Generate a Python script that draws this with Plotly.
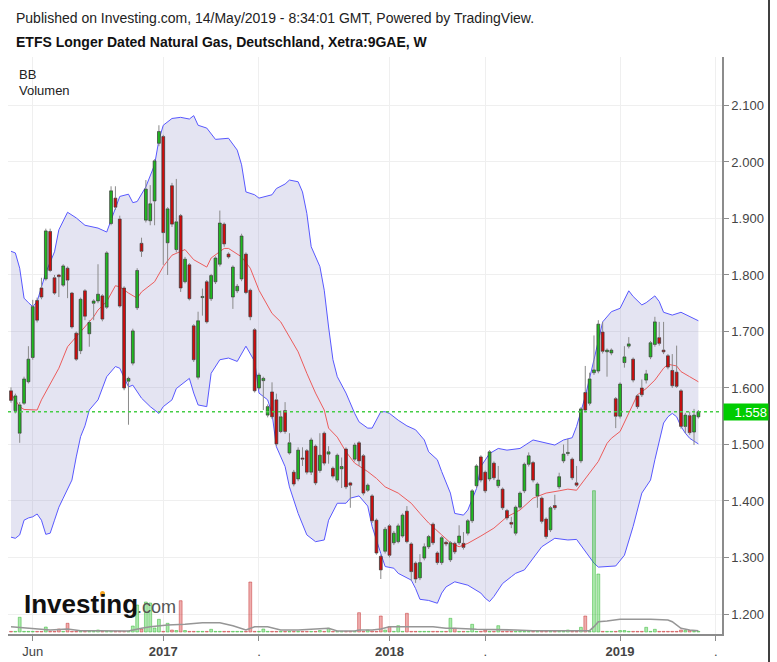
import pandas as pd
import plotly.graph_objects as go

# ---------------- data (weekly bars, Xetra:9GAE) ----------------
dates = pd.date_range("2016-05-02", periods=159, freq="7D")

opens = [
    1.595, 1.560, 1.520, 1.573, 1.611, 1.654, 1.755, 1.777, 1.793, 1.877,
    1.795, 1.800, 1.782, 1.812, 1.768, 1.697, 1.666, 1.772, 1.696, 1.750,
    1.754, 1.763, 1.743, 1.891, 1.936, 1.899, 1.777, 1.612, 1.644, 1.742,
    1.856, 1.897, 1.896, 1.931, 2.033, 2.045, 1.857, 1.958, 1.845, 1.905,
    1.788, 1.818, 1.710, 1.619, 1.760, 1.788, 1.758, 1.788, 1.819, 1.890,
    1.837, 1.761, 1.772, 1.793, 1.837, 1.773, 1.703, 1.600, 1.613, 1.552,
    1.593, 1.579, 1.523, 1.560, 1.485, 1.451, 1.439, 1.476, 1.489, 1.451,
    1.497, 1.454, 1.520, 1.483, 1.458, 1.437, 1.457, 1.492, 1.432, 1.474,
    1.503, 1.480, 1.419, 1.409, 1.366, 1.302, 1.311, 1.356, 1.326, 1.328,
    1.338, 1.382, 1.324, 1.290, 1.264, 1.299, 1.319, 1.359, 1.308, 1.291,
    1.327, 1.296, 1.325, 1.326, 1.325, 1.343, 1.365, 1.427, 1.478, 1.451,
    1.439, 1.467, 1.427, 1.421, 1.383, 1.362, 1.343, 1.389, 1.418, 1.465,
    1.468, 1.409, 1.405, 1.368, 1.349, 1.392, 1.425, 1.471, 1.484, 1.474,
    1.432, 1.471, 1.592, 1.573, 1.627, 1.630, 1.699, 1.664, 1.662, 1.581,
    1.550, 1.645, 1.674, 1.651, 1.586, 1.600, 1.614, 1.655, 1.677, 1.689,
    1.667, 1.657, 1.631, 1.628, 1.595, 1.532, 1.551, 1.522, 1.549,
]
highs = [
    1.601, 1.590, 1.575, 1.620, 1.674, 1.756, 1.760, 1.795, 1.882, 1.882,
    1.800, 1.802, 1.819, 1.815, 1.770, 1.700, 1.760, 1.775, 1.720, 1.757,
    1.819, 1.766, 1.842, 1.957, 1.957, 1.905, 1.780, 1.620, 1.705, 1.812,
    1.866, 1.968, 1.959, 2.005, 2.065, 2.048, 1.920, 1.963, 1.970, 1.908,
    1.832, 1.821, 1.713, 1.735, 1.776, 1.791, 1.802, 1.833, 1.914, 1.893,
    1.840, 1.817, 1.784, 1.873, 1.840, 1.776, 1.706, 1.627, 1.620, 1.571,
    1.610, 1.590, 1.560, 1.575, 1.520, 1.455, 1.495, 1.495, 1.492, 1.512,
    1.500, 1.520, 1.523, 1.497, 1.461, 1.484, 1.477, 1.495, 1.434, 1.503,
    1.506, 1.483, 1.431, 1.412, 1.369, 1.305, 1.354, 1.359, 1.347, 1.360,
    1.378, 1.391, 1.327, 1.293, 1.306, 1.325, 1.340, 1.362, 1.311, 1.338,
    1.330, 1.329, 1.328, 1.357, 1.345, 1.368, 1.421, 1.465, 1.481, 1.454,
    1.490, 1.470, 1.462, 1.424, 1.386, 1.372, 1.392, 1.417, 1.468, 1.486,
    1.471, 1.433, 1.408, 1.371, 1.391, 1.411, 1.450, 1.500, 1.510, 1.477,
    1.462, 1.566, 1.639, 1.627, 1.693, 1.720, 1.717, 1.670, 1.670, 1.584,
    1.610, 1.674, 1.690, 1.654, 1.589, 1.615, 1.632, 1.683, 1.726, 1.717,
    1.717, 1.660, 1.660, 1.675, 1.598, 1.556, 1.558, 1.563, 1.561,
]
lows = [
    1.574, 1.555, 1.503, 1.570, 1.608, 1.650, 1.716, 1.757, 1.790, 1.805,
    1.765, 1.761, 1.779, 1.759, 1.705, 1.648, 1.660, 1.720, 1.673, 1.720,
    1.750, 1.718, 1.740, 1.888, 1.915, 1.742, 1.596, 1.535, 1.640, 1.738,
    1.832, 1.893, 1.888, 1.888, 2.028, 1.818, 1.800, 1.885, 1.840, 1.770,
    1.785, 1.755, 1.646, 1.615, 1.728, 1.714, 1.754, 1.784, 1.815, 1.850,
    1.829, 1.740, 1.768, 1.789, 1.766, 1.720, 1.592, 1.597, 1.561, 1.548,
    1.545, 1.497, 1.520, 1.519, 1.482, 1.426, 1.435, 1.462, 1.447, 1.446,
    1.428, 1.450, 1.463, 1.466, 1.440, 1.433, 1.423, 1.421, 1.388, 1.470,
    1.462, 1.410, 1.416, 1.361, 1.305, 1.262, 1.307, 1.300, 1.322, 1.325,
    1.335, 1.325, 1.259, 1.255, 1.260, 1.295, 1.315, 1.322, 1.287, 1.287,
    1.320, 1.292, 1.306, 1.322, 1.314, 1.339, 1.361, 1.423, 1.433, 1.414,
    1.435, 1.437, 1.423, 1.384, 1.366, 1.352, 1.339, 1.385, 1.414, 1.461,
    1.433, 1.388, 1.360, 1.333, 1.345, 1.384, 1.421, 1.467, 1.480, 1.437,
    1.425, 1.467, 1.557, 1.569, 1.623, 1.626, 1.661, 1.620, 1.658, 1.529,
    1.546, 1.636, 1.670, 1.610, 1.563, 1.584, 1.608, 1.651, 1.673, 1.675,
    1.660, 1.633, 1.600, 1.600, 1.528, 1.520, 1.517, 1.499, 1.546,
]
closes = [
    1.578, 1.586, 1.570, 1.616, 1.651, 1.744, 1.720, 1.761, 1.878, 1.808,
    1.768, 1.797, 1.816, 1.791, 1.708, 1.651, 1.757, 1.727, 1.716, 1.754,
    1.766, 1.722, 1.839, 1.949, 1.920, 1.745, 1.600, 1.617, 1.701, 1.808,
    1.842, 1.952, 1.926, 2.002, 2.054, 1.875, 1.917, 1.890, 1.894, 1.777,
    1.828, 1.758, 1.650, 1.719, 1.762, 1.717, 1.799, 1.830, 1.892, 1.855,
    1.832, 1.814, 1.780, 1.869, 1.769, 1.726, 1.595, 1.623, 1.617, 1.567,
    1.549, 1.501, 1.549, 1.523, 1.503, 1.430, 1.490, 1.474, 1.451, 1.508,
    1.432, 1.481, 1.467, 1.487, 1.444, 1.481, 1.461, 1.425, 1.428, 1.499,
    1.471, 1.414, 1.428, 1.365, 1.308, 1.278, 1.350, 1.304, 1.343, 1.356,
    1.375, 1.328, 1.275, 1.262, 1.291, 1.319, 1.337, 1.326, 1.291, 1.335,
    1.324, 1.326, 1.310, 1.338, 1.318, 1.365, 1.418, 1.462, 1.437, 1.418,
    1.487, 1.441, 1.437, 1.388, 1.370, 1.359, 1.389, 1.414, 1.465, 1.480,
    1.437, 1.430, 1.364, 1.337, 1.388, 1.388, 1.443, 1.483, 1.486, 1.441,
    1.428, 1.563, 1.561, 1.616, 1.632, 1.713, 1.665, 1.667, 1.667, 1.550,
    1.607, 1.655, 1.678, 1.614, 1.567, 1.588, 1.625, 1.680, 1.717, 1.679,
    1.664, 1.637, 1.604, 1.603, 1.532, 1.552, 1.521, 1.552, 1.558,
]
# weekly volume (thousands of shares)
volumes = [
    0.6, 0.6, 14.7, 0.6, 0.6, 0.6, 0.6, 0.6, 5.0, 0.6,
    0.6, 3.0, 0.6, 8.7, 0.6, 0.6, 0.6, 0.6, 0.6, 0.6,
    2.0, 0.6, 0.6, 0.6, 0.6, 0.6, 0.6, 0.6, 6.0, 27.0,
    3.0, 30.0, 29.0, 4.0, 12.7, 0.6, 8.7, 2.0, 1.5, 31.3,
    1.5, 0.6, 0.6, 0.6, 0.6, 0.6, 2.7, 0.6, 0.6, 0.6,
    0.6, 0.6, 0.6, 0.6, 0.6, 50.0, 0.6, 0.6, 3.0, 0.6,
    0.6, 0.6, 0.6, 0.6, 0.6, 0.6, 0.6, 0.6, 0.6, 0.6,
    0.6, 1.5, 0.6, 3.7, 0.6, 0.6, 0.6, 0.6, 0.6, 0.6,
    19.3, 0.6, 2.0, 1.0, 0.6, 16.0, 2.0, 5.3, 0.6, 6.3,
    0.6, 18.7, 0.6, 0.6, 0.6, 0.6, 0.6, 0.6, 0.6, 0.6,
    0.6, 13.7, 3.7, 0.6, 0.6, 0.6, 7.7, 0.6, 0.6, 2.0,
    0.6, 0.6, 6.3, 0.6, 0.6, 0.6, 0.6, 0.6, 0.6, 0.6,
    0.6, 0.6, 0.6, 0.6, 0.6, 0.6, 0.6, 0.6, 2.0, 0.6,
    0.6, 4.7, 16.0, 0.6, 141.3, 58.0, 0.6, 0.6, 0.6, 0.6,
    1.5, 1.5, 0.6, 0.6, 0.6, 0.6, 4.7, 0.6, 2.7, 0.6,
    0.6, 0.6, 0.6, 0.6, 2.0, 1.5, 1.5, 0.6, 0.6,
]
# volume moving average, read at sampled weeks (0-based week index)
vol_ma_week = [0, 5, 9, 13, 16, 20, 27, 30, 32, 36, 40, 44, 48, 51, 54, 56, 59, 62, 66, 73,
               75, 79, 80, 83, 85, 87, 93, 97, 100, 102, 107, 112, 116, 120, 126, 133, 134,
               135, 137, 140, 147, 151, 152, 154, 156, 158]
vol_ma = [5.3, 3.7, 2.0, 3.0, 1.3, 1.3, 1.0, 3.7, 5.3, 7.0, 7.7, 9.3, 9.3, 6.3, 2.0, 5.3, 5.3,
          2.0, 2.0, 3.7, 1.0, 1.0, 2.0, 2.0, 3.0, 5.3, 5.3, 5.3, 3.7, 3.7, 2.7, 2.7, 2.0, 1.3,
          1.0, 1.3, 5.3, 10.3, 11.0, 12.7, 12.7, 12.0, 10.3, 3.7, 2.0, 1.3]

# Bollinger bands, read at sampled weeks (0-based week index)
bb_upper_week = [0, 1, 2, 3, 4, 5, 6, 8, 10, 11, 13, 15, 17, 20, 22, 24, 25, 27, 28, 29,
                 31, 33, 34, 35, 37, 39, 41, 42, 43, 45, 47, 50, 52, 53, 54, 56, 57, 60, 61, 63,
                 64, 66, 67, 68, 69, 71, 72, 73, 74, 75, 77, 79, 80, 82, 83, 85, 86, 87, 89, 91,
                 93, 95, 96, 98, 99, 101, 102, 104, 105, 107, 108, 110, 112, 114, 117, 120, 123,
                 125, 127, 129, 130, 132, 134, 136, 138, 140, 142, 143, 145, 146, 148, 149, 150,
                 152, 154, 156, 158]
bb_upper = [1.842, 1.839, 1.812, 1.759, 1.751, 1.744, 1.753, 1.804, 1.841, 1.880,
            1.911, 1.901, 1.888, 1.883, 1.876, 1.918, 1.939, 1.943, 1.928, 1.930,
            1.956, 1.995, 2.039, 2.065, 2.077, 2.079, 2.076, 2.082, 2.065, 2.060,
            2.040, 2.042, 2.021, 1.995, 1.947, 1.942, 1.936, 1.942, 1.953, 1.961,
            1.968, 1.965, 1.947, 1.909, 1.850, 1.815, 1.773, 1.708, 1.650, 1.620,
            1.591, 1.555, 1.540, 1.529, 1.529, 1.558, 1.558, 1.555, 1.543, 1.533,
            1.526, 1.508, 1.487, 1.473, 1.452, 1.414, 1.378, 1.375, 1.384, 1.422,
            1.461, 1.484, 1.493, 1.490, 1.493, 1.508, 1.502, 1.499, 1.508, 1.512,
            1.532, 1.585, 1.650, 1.717, 1.735, 1.741, 1.772, 1.762, 1.747, 1.751,
            1.763, 1.753, 1.734, 1.729, 1.734, 1.727, 1.719]
bb_lower_week = [0, 1, 2, 3, 4, 5, 6, 7, 8, 9, 10, 11, 12, 14, 15, 16, 17, 18, 20, 22,
                 24, 25, 27, 28, 30, 32, 34, 35, 37, 38, 40, 41, 42, 43, 45, 46, 48, 50, 52, 54,
                 56, 57, 59, 60, 61, 63, 64, 66, 68, 70, 72, 73, 75, 77, 78, 80, 82, 83, 85, 86,
                 88, 89, 92, 93, 94, 96, 98, 99, 100, 102, 105, 108, 109, 110, 111, 113, 115,
                 116, 118, 120, 122, 125, 128, 130, 132, 134, 135, 137, 139, 141, 143, 145, 147,
                 148, 149, 150, 151, 152, 153, 154, 155, 156, 158]
bb_lower = [1.336, 1.334, 1.340, 1.366, 1.370, 1.372, 1.377, 1.366, 1.341, 1.343,
            1.366, 1.389, 1.405, 1.437, 1.478, 1.514, 1.533, 1.561, 1.579, 1.620,
            1.638, 1.635, 1.602, 1.605, 1.582, 1.567, 1.555, 1.567, 1.579, 1.599,
            1.611, 1.617, 1.591, 1.570, 1.567, 1.626, 1.650, 1.653, 1.647, 1.674,
            1.647, 1.591, 1.579, 1.555, 1.496, 1.461, 1.425, 1.378, 1.340, 1.328,
            1.331, 1.366, 1.396, 1.396, 1.405, 1.409, 1.391, 1.355, 1.307, 1.284,
            1.281, 1.272, 1.260, 1.245, 1.226, 1.224, 1.219, 1.237, 1.248, 1.257,
            1.251, 1.237, 1.228, 1.222, 1.231, 1.254, 1.266, 1.272, 1.278, 1.299,
            1.319, 1.334, 1.331, 1.332, 1.310, 1.290, 1.283, 1.284, 1.285, 1.304,
            1.355, 1.414, 1.437, 1.473, 1.508, 1.538, 1.549, 1.555, 1.549, 1.532,
            1.520, 1.511, 1.501]
bb_mid_week = [0, 2, 3, 5, 6, 7, 9, 11, 13, 15, 17, 19, 20, 22, 24, 25, 27, 29, 30, 33,
               35, 37, 40, 42, 45, 46, 49, 50, 53, 55, 57, 60, 62, 64, 66, 68, 70, 72, 73, 75,
               77, 79, 82, 84, 86, 89, 92, 94, 96, 99, 101, 103, 105, 108, 111, 114, 117, 120,
               123, 126, 128, 130, 132, 135, 137, 138, 140, 142, 144, 146, 148, 150, 151, 153,
               154, 156, 158]
bb_mid = [1.590, 1.567, 1.562, 1.561, 1.561, 1.579, 1.608, 1.635, 1.673, 1.691,
          1.708, 1.726, 1.738, 1.753, 1.781, 1.779, 1.768, 1.759, 1.770, 1.788,
          1.815, 1.835, 1.845, 1.827, 1.814, 1.830, 1.847, 1.847, 1.832, 1.812,
          1.773, 1.732, 1.717, 1.691, 1.664, 1.626, 1.591, 1.561, 1.529, 1.513,
          1.487, 1.467, 1.452, 1.440, 1.425, 1.414, 1.396, 1.378, 1.361, 1.340,
          1.326, 1.319, 1.325, 1.338, 1.352, 1.372, 1.384, 1.405, 1.414, 1.418,
          1.421, 1.419, 1.440, 1.470, 1.502, 1.511, 1.523, 1.555, 1.588, 1.599,
          1.614, 1.635, 1.642, 1.639, 1.629, 1.620, 1.611]

x_tick_dates = ["2016-06-06", "2017-01-02", "2017-06-05", "2018-01-01",
                "2018-06-04", "2019-01-07", "2019-06-10"]
x_tick_labels = ["Jun", "<b>2017</b>", ".", "<b>2018</b>", ".", "<b>2019</b>", "."]
y_ticks = [1.2, 1.3, 1.4, 1.5, 1.6, 1.7, 1.8, 1.9, 2.0, 2.1]

n = len(dates)
for arr in (opens, highs, lows, closes, volumes):
    assert len(arr) == n, len(arr)
assert len(bb_upper_week) == len(bb_upper)
assert len(bb_lower_week) == len(bb_lower)
assert len(bb_mid_week) == len(bb_mid)
assert len(vol_ma_week) == len(vol_ma)

# ---------------- styling ----------------
W, H = 777, 662
ML, MR, MT, MB = 8, 55, 57, 28
PW, PH = W - ML - MR, H - MT - MB
Y_RANGE = [1.1646, 2.1858]
X_RANGE = ["2016-04-27 04:00", "2019-06-20"]
GREEN, RED, EDGE, WICK = "#1fbb1f", "#d40b0b", "#3b3b3b", "#8a8a8a"
FONT = "Arial, 'Liberation Sans', sans-serif"


def px_x(px):
    return (px - ML) / PW


def px_y(py):
    return (H - MB - py) / PH


ds = [d.strftime("%Y-%m-%d") for d in dates]
up = [c >= o for o, c in zip(opens, closes)]
body_base = [min(o, c) for o, c in zip(opens, closes)]
body_h = [max(abs(c - o), 0.0015) for o, c in zip(opens, closes)]
body_col = [GREEN if u else RED for u in up]

wx, wy = [], []
for d, o, h, l, c in zip(ds, opens, highs, lows, closes):
    wx += [d, d, None, d, d, None]
    wy += [h, max(o, c), None, min(o, c), l, None]

vol_col = ["rgba(40,200,40,0.38)" if u else "rgba(210,40,40,0.38)" for u in up]
vol_edge = ["rgba(30,170,30,0.55)" if u else "rgba(190,30,30,0.55)" for u in up]

fig = go.Figure()
# Bollinger band fill + lines
fig.add_trace(go.Scatter(x=[ds[i] for i in bb_upper_week], y=bb_upper, mode="lines",
                         line=dict(color="rgb(88,88,255)", width=1), yaxis="y", hoverinfo="skip"))
fig.add_trace(go.Scatter(x=[ds[i] for i in bb_lower_week], y=bb_lower, mode="lines",
                         line=dict(color="rgb(88,88,255)", width=1), fill="tonexty",
                         fillcolor="rgba(120,120,190,0.2)", yaxis="y", hoverinfo="skip"))
fig.add_trace(go.Scatter(x=[ds[i] for i in bb_mid_week], y=bb_mid, mode="lines",
                         line=dict(color="rgb(236,92,92)", width=1), yaxis="y", hoverinfo="skip"))
# candles
fig.add_trace(go.Scatter(x=wx, y=wy, mode="lines", line=dict(color=WICK, width=1),
                         connectgaps=False, yaxis="y2", hoverinfo="skip"))
fig.add_trace(go.Bar(x=ds, y=body_h, base=body_base, width=4.4 * 86400000,
                     marker=dict(color=body_col, line=dict(color=EDGE, width=0.8)),
                     yaxis="y2", hoverinfo="skip"))
# volume
fig.add_trace(go.Bar(x=ds, y=volumes, width=4.6 * 86400000,
                     marker=dict(color=vol_col, line=dict(color=vol_edge, width=0.8)),
                     yaxis="y3", hoverinfo="skip"))
fig.add_trace(go.Scatter(x=[ds[i] for i in vol_ma_week], y=vol_ma, mode="lines",
                         line=dict(color="rgb(150,150,150)", width=1.6), yaxis="y3",
                         hoverinfo="skip"))

last = closes[-1]
fig.add_shape(type="line", xref="paper", x0=0, x1=1, yref="y", y0=last, y1=last,
              line=dict(color="rgb(70,205,70)", width=1.4, dash="dot"), layer="above")
# right black frame edge
fig.add_shape(type="line", xref="paper", x0=px_x(769), x1=px_x(769), yref="paper",
              y0=px_y(H + 5), y1=px_y(-5), line=dict(color="black", width=1.5))

annotations = [
    dict(text="Published on Investing.com, 14/May/2019 - 8:34:01 GMT, Powered by TradingView.",
         x=px_x(14), y=px_y(18), xanchor="left", yanchor="middle",
         font=dict(size=14, color="#222", family=FONT)),
    dict(text="<b>ETFS Longer Dated Natural Gas, Deutschland, Xetra:9GAE, W</b>",
         x=px_x(14), y=px_y(42), xanchor="left", yanchor="middle",
         font=dict(size=14, color="#111", family=FONT)),
    dict(text="BB", x=px_x(17), y=px_y(75), xanchor="left", yanchor="middle",
         font=dict(size=13, color="#222", family=FONT)),
    dict(text="Volumen", x=px_x(17), y=px_y(91), xanchor="left", yanchor="middle",
         font=dict(size=13, color="#222", family=FONT)),
    dict(text="<b>Investing</b>", x=px_x(22), y=px_y(604), xanchor="left", yanchor="middle",
         font=dict(size=26, color="#111", family=FONT)),
    dict(text=".com", x=px_x(135), y=px_y(607), xanchor="left", yanchor="middle",
         font=dict(size=18, color="#555", family=FONT)),
    dict(text=f"{last:.3f}", x=1, xref="paper", y=last, yref="y", xanchor="left",
         yanchor="middle", xshift=1, showarrow=False, bgcolor="#00cc00", width=42, height=14,
         align="right", borderpad=1, font=dict(size=13, color="white", family=FONT)),
]
for a in annotations:
    a.setdefault("xref", "paper")
    a.setdefault("yref", "paper")
    a.setdefault("showarrow", False)

fig.add_shape(type="circle", xref="paper", yref="paper",
              x0=px_x(100), x1=px_x(105), y0=px_y(597), y1=px_y(591),
              fillcolor="#f5a623", line=dict(width=0))

axis_common = dict(showline=True, linecolor="#8c8c8c", linewidth=1.5, ticks="outside",
                   ticklen=5, tickcolor="#8c8c8c", zeroline=False, showgrid=True,
                   gridcolor="#efefef", gridwidth=1, tickfont=dict(size=13, color="#444"),
                   fixedrange=True)
fig.update_layout(
    width=W, height=H,
    margin=dict(l=ML, r=MR, t=MT, b=MB, autoexpand=False),
    paper_bgcolor="white", plot_bgcolor="white",
    showlegend=False, barmode="overlay",
    font=dict(family=FONT, size=13, color="#444"),
    xaxis=dict(type="date", range=X_RANGE, tickmode="array", tickvals=x_tick_dates,
               ticktext=x_tick_labels, **axis_common),
    yaxis=dict(side="right", range=Y_RANGE, tickmode="array", tickvals=y_ticks,
               tickformat=".3f", **axis_common),
    yaxis2=dict(overlaying="y", range=Y_RANGE, visible=False, fixedrange=True),
    yaxis3=dict(overlaying="y", range=[-2, 575], visible=False, fixedrange=True),
    annotations=annotations,
)

fig.write_html(
    "out.html",
    config={"displayModeBar": False},
    post_script="document.body.style.margin='0';document.body.style.overflow='hidden';",
)
